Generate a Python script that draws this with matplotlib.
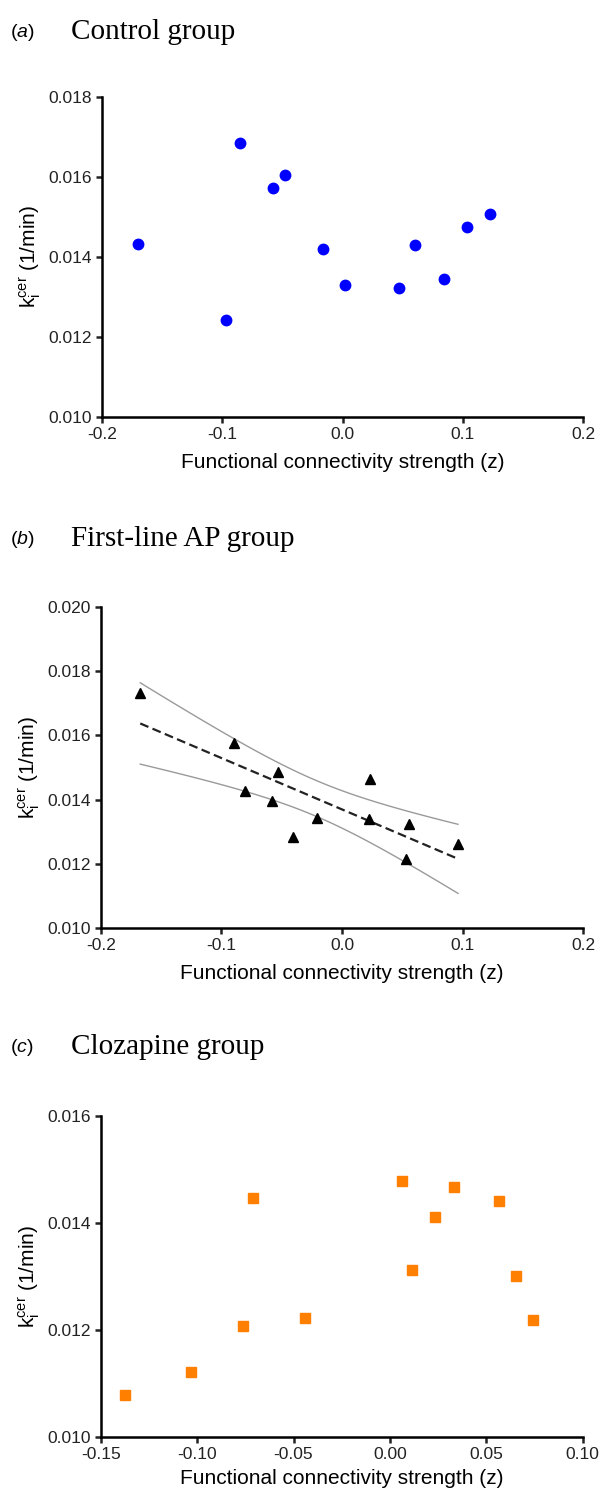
import numpy as np
import matplotlib
matplotlib.use("Agg")
import matplotlib.pyplot as plt

plt.rcParams['font.family'] = ['Liberation Sans', 'DejaVu Sans']
plt.rcParams['mathtext.fontset'] = 'custom'
plt.rcParams['mathtext.rm'] = 'Liberation Sans'
plt.rcParams['mathtext.it'] = 'Liberation Sans:italic'

# panel a - control group
ctrl_x = [-0.170, -0.0966, -0.0854, -0.0578, -0.0476, -0.0161, 0.002, 0.0469, 0.0603, 0.0845, 0.1036, 0.1223]
ctrl_y = [0.01432, 0.01243, 0.01685, 0.01572, 0.01605, 0.01419, 0.01330, 0.01323, 0.01429, 0.01344, 0.01476, 0.01507]

# panel b - first-line AP group
ap_x = [-0.1673, -0.0895, -0.0806, -0.0581, -0.0530, -0.0406, -0.0206, 0.0229, 0.0225, 0.0530, 0.0559, 0.0962]
ap_y = [0.01731, 0.01578, 0.01428, 0.01396, 0.01486, 0.01285, 0.01343, 0.01464, 0.01339, 0.01215, 0.01323, 0.01262]

# panel c - clozapine group
cloz_x = [-0.1377, -0.1034, -0.0760, -0.0712, -0.0440, 0.0062, 0.0117, 0.0234, 0.0335, 0.0567, 0.0655, 0.0742]
cloz_y = [0.01078, 0.01121, 0.01207, 0.01446, 0.01223, 0.01478, 0.01312, 0.01411, 0.01468, 0.01442, 0.01301, 0.01218]

ylab = r'$\mathregular{k_i^{cer}}$ (1/min)'
xlab = 'Functional connectivity strength (z)'


def style_axes(ax, xticks, xlabels, yticks, xpad=8):
    for s in ['top', 'right']:
        ax.spines[s].set_visible(False)
    for s in ['left', 'bottom']:
        ax.spines[s].set_linewidth(1.8)
    ax.set_xticks(xticks)
    ax.set_xticklabels(xlabels)
    ax.set_yticks(yticks)
    ax.set_yticklabels(['%.3f' % v for v in yticks])
    ax.set_xlim(xticks[0], xticks[-1])
    ax.set_ylim(yticks[0], yticks[-1])
    ax.tick_params(direction='out', length=4, width=1.8, labelsize=12.5, pad=3, colors='#222222')
    ax.set_ylabel(ylab, fontsize=15, labelpad=4)
    ax.set_xlabel(xlab, fontsize=15, labelpad=xpad)
    for sp in ax.spines.values():
        sp.set_clip_on(False)


fig = plt.figure(figsize=(6, 14.92), dpi=100)

ax1 = fig.add_axes([0.17, 0.7205, 0.802, 0.2145])
ax1.plot(ctrl_x, ctrl_y, 'o', color='#0000ff', markersize=7.5, clip_on=False)
style_axes(ax1, [-0.2, -0.1, 0.0, 0.1, 0.2], ['-0.2', '-0.1', '0.0', '0.1', '0.2'],
           [0.010, 0.012, 0.014, 0.016, 0.018])

ax2 = fig.add_axes([0.168, 0.378, 0.804, 0.2151])
xa = np.array(ap_x)
ya = np.array(ap_y)
slope, icpt = np.polyfit(xa, ya, 1)
xs = np.linspace(xa.min(), xa.max(), 100)
fit = slope * xs + icpt
n = len(xa)
resid = ya - (slope * xa + icpt)
se = np.sqrt(np.sum(resid ** 2) / (n - 2))
t = 2.228  # t(0.975, df=10)
band = t * se * np.sqrt(1.0 / n + (xs - xa.mean()) ** 2 / np.sum((xa - xa.mean()) ** 2))
ax2.plot(xs, fit + band, color='#9a9a9a', lw=1.0)
ax2.plot(xs, fit - band, color='#9a9a9a', lw=1.0)
ax2.plot(xs, fit, '--', color='#222222', lw=1.6, dashes=(4, 2))
ax2.plot(ap_x, ap_y, '^', color='black', markersize=7.5, clip_on=False)
style_axes(ax2, [-0.2, -0.1, 0.0, 0.1, 0.2], ['-0.2', '-0.1', '0.0', '0.1', '0.2'],
           [0.010, 0.012, 0.014, 0.016, 0.018, 0.020])

ax3 = fig.add_axes([0.168, 0.0369, 0.803, 0.2151])
ax3.plot(cloz_x, cloz_y, 's', color='#ff7f00', markersize=7.5, clip_on=False)
style_axes(ax3, [-0.15, -0.10, -0.05, 0.0, 0.05, 0.10],
           ['-0.15', '-0.10', '-0.05', '0.00', '0.05', '0.10'],
           [0.010, 0.012, 0.014, 0.016], xpad=5)

# panel headings
for y, letter, title in [(0.9785, 'a', 'Control group'),
                         (0.6385, 'b', 'First-line AP group'),
                         (0.2980, 'c', 'Clozapine group')]:
    fig.text(0.017, y, '($\\mathit{%s}$)' % letter, fontsize=14, va='center', ha='left')
    fig.text(0.118, y, title, fontsize=21, family='Liberation Serif', va='center', ha='left')

fig.savefig('out.png', dpi=100)
